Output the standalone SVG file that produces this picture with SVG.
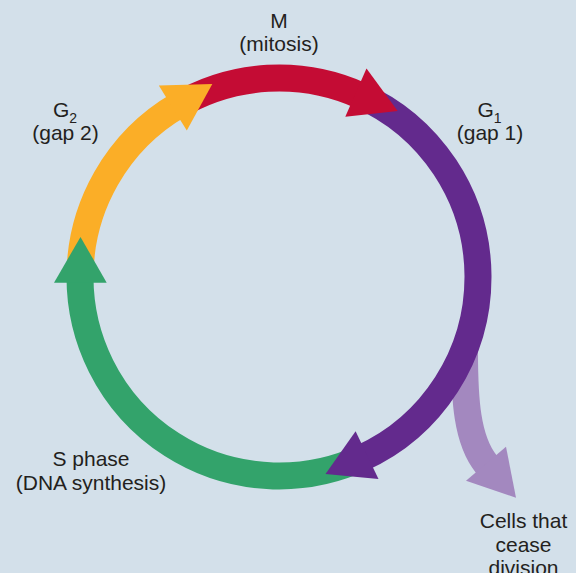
<svg xmlns="http://www.w3.org/2000/svg" width="576" height="573" viewBox="0 0 576 573">
  <style>
    .lbl { font-family: "Liberation Sans", Arial, Helvetica, sans-serif; font-size: 21px; fill: #231f20; text-anchor: middle; }
    .sub { font-size: 14px; }
    .band { fill: none; stroke-width: 27; stroke-linecap: butt; }
    .m { stroke: #c40c34; } .mh { fill: #c40c34; }
    .g1 { stroke: #632a8d; } .g1h { fill: #632a8d; }
    .s { stroke: #33a36b; } .sh { fill: #33a36b; }
    .g2 { stroke: #fbae27; } .g2h { fill: #fbae27; }
    .x { stroke: #a388bf; } .xh { fill: #a388bf; }
  </style>
  <rect x="0" y="0" width="576" height="573" fill="#d3e0ea"/>

  <g id="connectors">
    <!-- exit branch: cells that cease division -->
    <path class="band x" d="M464.5,352 C464.5,400 467,440 486,463.7 L489,467.5" stroke-width="26"/>
    <polygon class="xh" points="466,480.7 506,446.7 516,497.7"/>

    <!-- cycle bands -->
    <path class="band g2" d="M80.01,279.08 A199,199 0 0 1 179.5,104.66"/>
    <path class="band m" d="M176.51,106.42 A199,199 0 0 1 361.52,95.92"/>
    <path class="band g1" d="M358.35,94.51 A199,199 0 0 1 360.89,458.37"/>
    <path class="band s" d="M364.04,456.91 A199,199 0 0 1 80.0,275.61"/>

    <!-- arrowheads -->
    <polygon class="g2h" points="158.8,85.4 186.8,130.4 212.3,84"/>
    <polygon class="mh" points="366.5,68.5 345.3,116.8 397.7,111"/>
    <polygon class="g1h" points="355.6,431.2 378.5,479 325.5,474"/>
    <polygon class="sh" points="54,282.7 106.7,282.7 80.5,237"/>
  </g>

  <g id="node-M">
    <text class="lbl" x="279" y="27.5">M</text>
    <text class="lbl" x="279" y="50.5">(mitosis)</text>
  </g>

  <g id="node-G1">
    <text class="lbl" x="477.5" y="116.5" style="text-anchor:start">G<tspan class="sub" dy="6">1</tspan></text>
    <text class="lbl" x="490" y="140">(gap 1)</text>
  </g>

  <g id="node-G2">
    <text class="lbl" x="53" y="116.5" style="text-anchor:start">G<tspan class="sub" dy="6">2</tspan></text>
    <text class="lbl" x="65.5" y="140">(gap 2)</text>
  </g>

  <g id="node-S">
    <text class="lbl" x="91" y="466">S phase</text>
    <text class="lbl" x="91" y="489.5">(DNA synthesis)</text>
  </g>

  <g id="node-G0">
    <text class="lbl" x="523.5" y="528.3">Cells that</text>
    <text class="lbl" x="523.5" y="551.8">cease</text>
    <text class="lbl" x="523.5" y="575.3">division</text>
  </g>
</svg>
